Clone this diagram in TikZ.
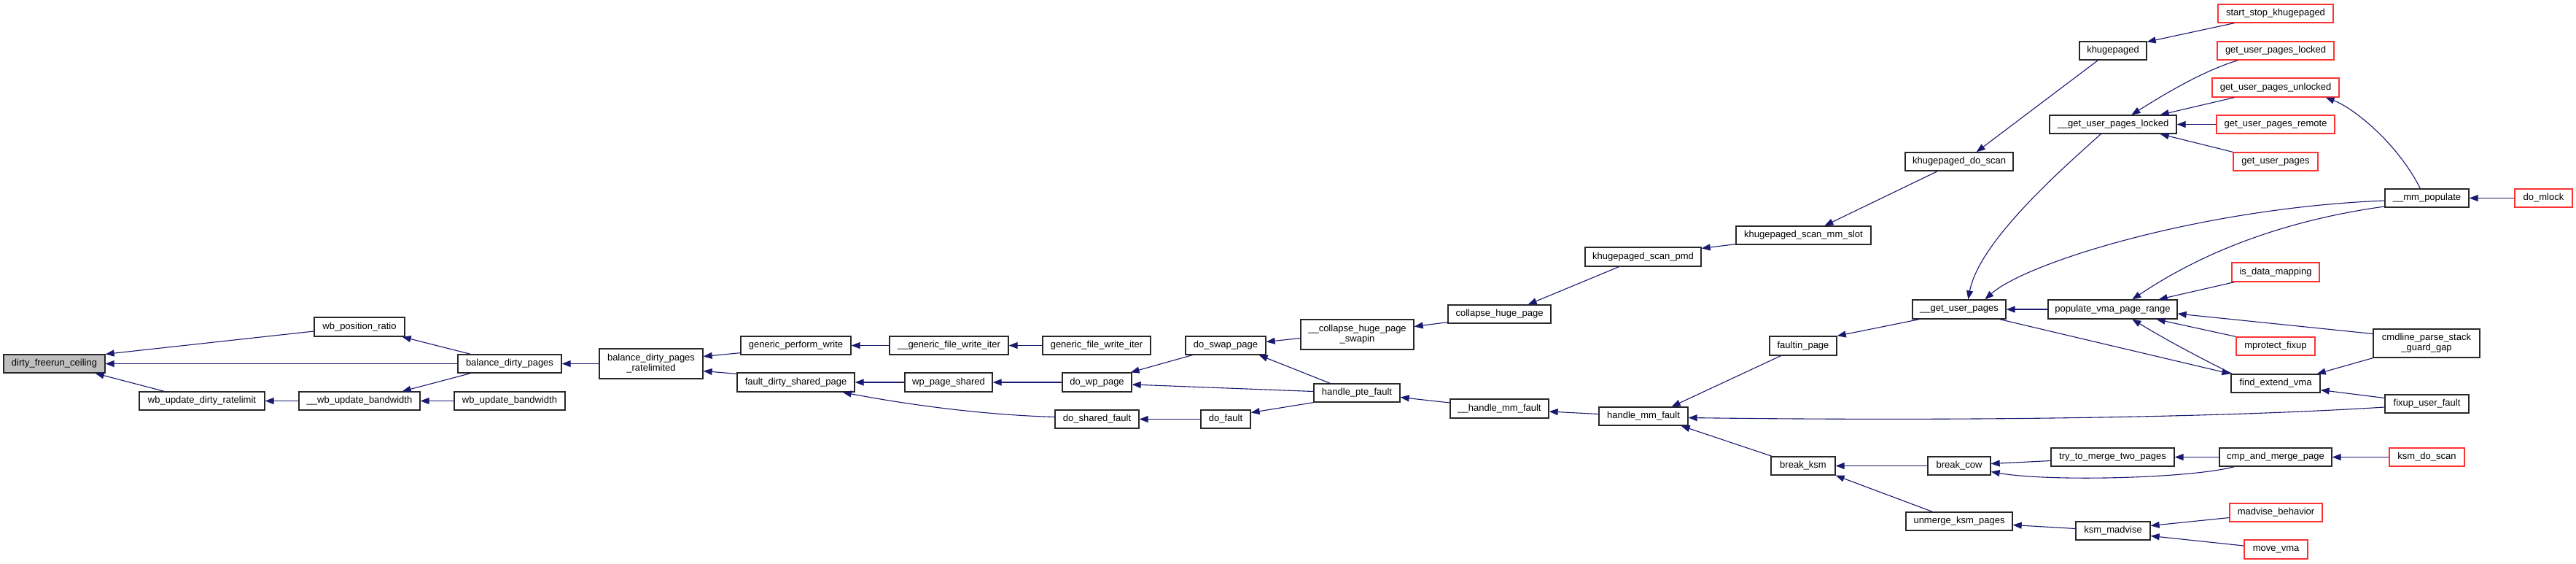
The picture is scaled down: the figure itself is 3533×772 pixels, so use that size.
\documentclass[tikz,border=0pt]{standalone}
\usepackage{fontspec}
\setmainfont{Liberation Sans}
\usetikzlibrary{arrows.meta}
\definecolor{edgec}{RGB}{25,25,112}
\definecolor{truncred}{RGB}{255,50,50}
\definecolor{bordc}{RGB}{40,40,40}
\definecolor{rootfill}{RGB}{191,191,191}
\tikzset{
  fbox/.style={draw=bordc, line width=1.3pt, fill=white, inner sep=0pt, align=center,
    font=\fontsize{13}{14}\selectfont},
  rootbox/.style={fbox, fill=rootfill},
  redbox/.style={fbox, draw=truncred},
  cedge/.style={draw=edgec, line width=1.1pt, {Triangle[length=12pt,width=9pt]}-}
}
\newcommand{\nbox}[7]{\node[#2, minimum width={(#5-#3)*1pt}, minimum height={(#6-#4)*1pt}] (#1) at ({(#3+#5)/2},{(#4+#6)/2}) {#7};}
\begin{document}
\begin{tikzpicture}[x=1pt,y=-1pt]
\useasboundingbox[fill=white] (0,0) rectangle (3533,772);
\nbox{dfc}{rootbox}{5}{486}{144}{511}{dirty\_freerun\_ceiling}
\nbox{wpr}{fbox}{431}{435}{555}{461}{wb\_position\_ratio}
\nbox{wudr}{fbox}{191}{537}{363}{562}{wb\_update\_dirty\_ratelimit}
\nbox{wubb}{fbox}{410}{537}{576}{562}{\_\_wb\_update\_bandwidth}
\nbox{bdp}{fbox}{628}{486}{770}{511}{balance\_dirty\_pages}
\nbox{wub}{fbox}{623}{537}{775}{562}{wb\_update\_bandwidth}
\nbox{bdpr}{fbox}{822}{478}{964}{519}{balance\_dirty\_pages\\\_ratelimited}
\nbox{gpw}{fbox}{1016}{461}{1167}{486}{generic\_perform\_write}
\nbox{fdsp}{fbox}{1011}{511}{1172}{537}{fault\_dirty\_shared\_page}
\nbox{gfwii}{fbox}{1220}{461}{1383}{486}{\_\_generic\_file\_write\_iter}
\nbox{gfwi}{fbox}{1430}{461}{1578}{486}{generic\_file\_write\_iter}
\nbox{wps}{fbox}{1241}{511}{1361}{537}{wp\_page\_shared}
\nbox{dwp}{fbox}{1457}{511}{1552}{537}{do\_wp\_page}
\nbox{dsf}{fbox}{1447}{562}{1562}{587}{do\_shared\_fault}
\nbox{dsp}{fbox}{1626}{461}{1736}{486}{do\_swap\_page}
\nbox{dof}{fbox}{1647}{562}{1715}{587}{do\_fault}
\nbox{chps}{fbox}{1784}{438}{1939}{479}{\_\_collapse\_huge\_page\\\_swapin}
\nbox{hpf}{fbox}{1802}{526}{1920}{551}{handle\_pte\_fault}
\nbox{chp}{fbox}{1986}{418}{2127}{443}{collapse\_huge\_page}
\nbox{hmff}{fbox}{1989}{547}{2124}{573}{\_\_handle\_mm\_fault}
\nbox{ksp}{fbox}{2174}{339}{2333}{365}{khugepaged\_scan\_pmd}
\nbox{hmf}{fbox}{2193}{558}{2315}{583}{handle\_mm\_fault}
\nbox{ksms}{fbox}{2381}{310}{2566}{335}{khugepaged\_scan\_mm\_slot}
\nbox{fip}{fbox}{2427}{461}{2519}{487}{faultin\_page}
\nbox{bksm}{fbox}{2429}{626}{2517}{651}{break\_ksm}
\nbox{kds}{fbox}{2613}{209}{2761}{234}{khugepaged\_do\_scan}
\nbox{gupp}{fbox}{2623}{411}{2751}{437}{\_\_get\_user\_pages}
\nbox{bcow}{fbox}{2644}{626}{2730}{651}{break\_cow}
\nbox{umk}{fbox}{2614}{702}{2760}{727}{unmerge\_ksm\_pages}
\nbox{khp}{fbox}{2852}{57}{2944}{82}{khugepaged}
\nbox{gupl2}{fbox}{2811}{158}{2985}{183}{\_\_get\_user\_pages\_locked}
\nbox{pvpr}{fbox}{2809}{411}{2986}{437}{populate\_vma\_page\_range}
\nbox{ttm}{fbox}{2813}{614}{2982}{639}{try\_to\_merge\_two\_pages}
\nbox{ksmm}{fbox}{2847}{715}{2949}{740}{ksm\_madvise}
\nbox{ssk}{redbox}{3042}{6}{3200}{31}{start\_stop\_khugepaged}
\nbox{gupl}{redbox}{3041}{57}{3201}{82}{get\_user\_pages\_locked}
\nbox{gupu}{redbox}{3034}{107}{3208}{133}{get\_user\_pages\_unlocked}
\nbox{gupr}{redbox}{3040}{158}{3202}{183}{get\_user\_pages\_remote}
\nbox{gup}{redbox}{3063}{209}{3179}{234}{get\_user\_pages}
\nbox{idm}{redbox}{3061}{360}{3181}{386}{is\_data\_mapping}
\nbox{mpf}{redbox}{3067}{462}{3175}{487}{mprotect\_fixup}
\nbox{fev}{fbox}{3060}{513}{3182}{538}{find\_extend\_vma}
\nbox{camp}{fbox}{3044}{614}{3198}{639}{cmp\_and\_merge\_page}
\nbox{mbh}{redbox}{3058}{690}{3185}{715}{madvise\_behavior}
\nbox{mvv}{redbox}{3078}{740}{3165}{766}{move\_vma}
\nbox{mmp}{fbox}{3271}{259}{3386}{284}{\_\_mm\_populate}
\nbox{cpsg}{fbox}{3255}{451}{3401}{490}{cmdline\_parse\_stack\\\_guard\_gap}
\nbox{fuf}{fbox}{3271}{541}{3386}{566}{fixup\_user\_fault}
\nbox{kdsc}{redbox}{3277}{614}{3380}{639}{ksm\_do\_scan}
\nbox{dml}{redbox}{3449}{259}{3528}{284}{do\_mlock}
% edges
\draw[cedge] (dfc.north east) -- ([yshift=-6pt]wpr.west);
\draw[cedge] (dfc.east) -- (bdp.west);
\draw[cedge] ([xshift=-14pt]dfc.south east) -- ([xshift=35pt]wudr.north west);
\draw[cedge] ([xshift=-4pt]wpr.south east) -- ([xshift=18pt]bdp.north west);
\draw[cedge] (wudr.east) -- (wubb.west);
\draw[cedge] ([xshift=-25pt]wubb.north east) -- ([xshift=18pt]bdp.south west);
\draw[cedge] (wubb.east) -- (wub.west);
\draw[cedge] (bdp.east) -- (bdpr.west);
\draw[cedge] ([yshift=10pt]bdpr.east) -- ([yshift=3pt]gpw.south west);
\draw[cedge] ([yshift=-10pt]bdpr.east) -- ([yshift=-2pt]fdsp.north west);
\draw[cedge] (gpw.east) -- (gfwii.west);
\draw[cedge] (gfwii.east) -- (gfwi.west);
\draw[cedge] (fdsp.east) -- (wps.west);
\draw[cedge] ([xshift=-17pt]fdsp.south east) .. controls +(90,17) and +(-100,-3) .. ([yshift=3pt]dsf.west);
\draw[cedge] (wps.east) -- (dwp.west);
\draw[cedge] ([xshift=-2pt]dwp.north east) -- ([xshift=10pt]dsp.south west);
\draw[cedge] ([yshift=-3pt]dwp.east) -- ([yshift=2pt]hpf.west);
\draw[cedge] (dsf.east) -- (dof.west);
\draw[cedge] ([yshift=9pt]dof.east) -- (hpf.south west);
\draw[cedge] ([yshift=5pt]dsp.east) -- ([yshift=-5pt]chps.west);
\draw[cedge] ([xshift=-10pt]dsp.south east) -- ([xshift=23pt]hpf.north west);
\draw[cedge] ([yshift=11pt]chps.east) -- ([yshift=2pt]chp.south west);
\draw[cedge] ([xshift=-32pt]chp.north east) -- ([xshift=47pt]ksp.south west);
\draw[cedge] ([yshift=-2pt]ksp.north east) -- ([yshift=1pt]ksms.south west);
\draw[cedge] ([xshift=122pt]ksms.north west) -- ([xshift=45pt]kds.south west);
\draw[cedge] ([xshift=-51pt]kds.north east) -- ([xshift=26pt]khp.south west);
\draw[cedge] ([yshift=-1pt]khp.north east) -- ([xshift=23pt]ssk.south west);
\draw[cedge] ([yshift=-6pt]hpf.east) -- ([yshift=8pt]hmff.west);
\draw[cedge] ([yshift=-4pt]hmff.east) -- ([yshift=3pt]hmf.west);
\draw[cedge] ([xshift=-23pt]hmf.north east) -- ([xshift=16pt]fip.south west);
\draw[cedge] ([yshift=-2pt]hmf.east) .. controls +(385,5) and +(-220,14) .. ([yshift=-4.5pt]fuf.west);
\draw[cedge] ([xshift=-10pt]hmf.south east) -- ([xshift=2pt]bksm.north west);
\draw[cedge] (fip.north east) -- ([xshift=10pt]gupp.south west);
\draw[cedge] ([xshift=77pt]gupp.north west) .. controls +(15,-80) and +(-50,45) .. ([xshift=71pt]gupl2.south west);
\draw[cedge] ([xshift=100pt]gupp.north west) .. controls +(57,-51) and +(-250,10) .. ([yshift=-3.5pt]mmp.west);
\draw[cedge] (gupp.east) -- (pvpr.west);
\draw[cedge] ([xshift=116pt]pvpr.north west) .. controls +(60,-40) and +(-180,25) .. ([yshift=-11.5pt]mmp.west);
\draw[cedge] ([xshift=-26pt]pvpr.north east) -- ([xshift=4pt]idm.south west);
\draw[cedge] ([yshift=-6pt]pvpr.east) -- ([yshift=13pt]cpsg.west);
\draw[cedge] ([xshift=-29pt]pvpr.south east) -- (mpf.north west);
\draw[cedge] ([xshift=116pt]pvpr.south west) .. controls +(50,30) and +(-50,-25) .. ([xshift=2pt]fev.north west);
\draw[cedge] (fev.north west) -- ([xshift=-9pt]gupp.south east);
\draw[cedge] ([xshift=-5pt]fev.north east) -- (cpsg.south west);
\draw[cedge] ([yshift=-9pt]fev.east) -- ([yshift=8pt]fuf.west);
\draw[cedge] ([xshift=113pt]gupl2.north west) .. controls +(40,-25) and +(-50,15) .. ([xshift=29pt]gupl.south west);
\draw[cedge] ([xshift=-23pt]gupl2.north east) -- ([xshift=31pt]gupu.south west);
\draw[cedge] (gupl2.east) -- (gupr.west);
\draw[cedge] ([xshift=-23pt]gupl2.south east) -- (gup.north west);
\draw[cedge] ([xshift=-19pt]gupu.south east) .. controls +(40,15) and +(-30,-60) .. ([xshift=49pt]mmp.north west);
\draw[cedge] (mmp.east) -- (dml.west);
\draw[cedge] (bksm.east) -- (bcow.west);
\draw[cedge] ([yshift=3pt]bcow.east) -- ([yshift=-5pt]ttm.west);
\draw[cedge] ([yshift=-8pt]bcow.east) .. controls +(80,14) and +(-60,16) .. ([xshift=21pt]camp.south west);
\draw[cedge] (ttm.east) -- (camp.west);
\draw[cedge] (camp.east) -- (kdsc.west);
\draw[cedge] (bksm.south east) -- ([xshift=37pt]umk.north west);
\draw[cedge] ([yshift=-5pt]umk.east) -- ([yshift=3pt]ksmm.west);
\draw[cedge] ([yshift=7pt]ksmm.east) -- ([yshift=-7pt]mbh.west);
\draw[cedge] ([yshift=-7pt]ksmm.east) -- ([yshift=5pt]mvv.west);
\end{tikzpicture}
\end{document}
